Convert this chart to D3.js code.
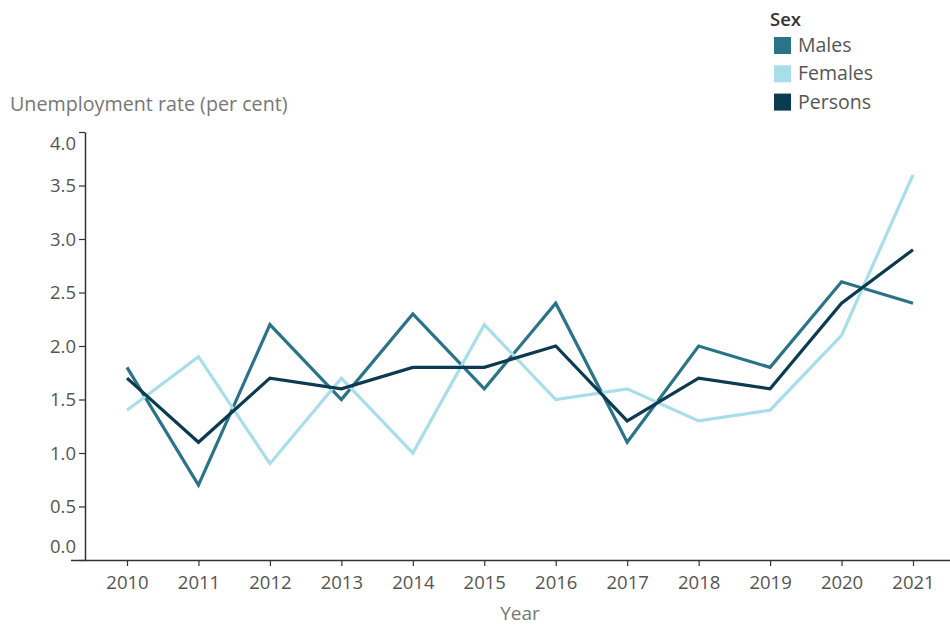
<!DOCTYPE html>
<html>
<head>
<meta charset="utf-8">
<script src="https://cdn.jsdelivr.net/npm/d3@7"></script>
<style>
  body { margin: 0; background: #fff; }
  text { font-family: "Open Sans", "Noto Sans", sans-serif; }
</style>
</head>
<body>
<svg id="chart" width="950" height="625"></svg>
<script>
// Unemployment rate by sex, 2010–2021
const years = [2010, 2011, 2012, 2013, 2014, 2015, 2016, 2017, 2018, 2019, 2020, 2021];
const males   = [1.8, 0.7, 2.2, 1.5, 2.3, 1.6, 2.4, 1.1, 2.0, 1.8, 2.6, 2.4];
const females = [1.4, 1.9, 0.9, 1.7, 1.0, 2.2, 1.5, 1.6, 1.3, 1.4, 2.1, 3.6];
const persons = [1.7, 1.1, 1.7, 1.6, 1.8, 1.8, 2.0, 1.3, 1.7, 1.6, 2.4, 2.9];
const seriesNames = ["Males", "Females", "Persons"];
const yTicks = [0, 0.5, 1.0, 1.5, 2.0, 2.5, 3.0, 3.5, 4.0];

const colors = { Males: "#2a7388", Females: "#a8dee9", Persons: "#0c3a50" };
const series = [
  { name: "Males", values: males },
  { name: "Females", values: females },
  { name: "Persons", values: persons }
];

const svg = d3.select("#chart");
const plotLeft = 85, plotRight = 950, plotTop = 132, plotBottom = 560;

const x = d3.scalePoint().domain(years).range([127, 913]);
const y = d3.scaleLinear().domain([0, 4]).range([plotBottom, plotTop]);

// Y axis
const yAxis = svg.append("g").attr("transform", `translate(${plotLeft},0)`)
  .call(d3.axisLeft(y).tickValues(yTicks).tickFormat(d3.format(".1f")).tickSize(6).tickSizeOuter(0));
yAxis.select(".domain").attr("stroke", "#333").attr("stroke-width", 1.5);
yAxis.selectAll(".tick line").attr("stroke", "#333").attr("stroke-width", 1.2);
yAxis.selectAll(".tick text")
  .attr("x", -9)
  .attr("fill", "#555")
  .style("font-size", "18.5px")
  .attr("dy", d => d === 4 ? "0.95em" : (d === 0 ? "-0.4em" : "0.34em"));

// X axis
const xAxis = svg.append("g").attr("transform", `translate(0,${plotBottom})`)
  .call(d3.axisBottom(x).tickSize(6).tickSizeOuter(0));
xAxis.select(".domain").attr("d", `M${plotLeft - 14},0.5H${plotRight}`).attr("stroke", "#333").attr("stroke-width", 1.5);
xAxis.selectAll(".tick line").attr("stroke", "#333").attr("stroke-width", 1.2);
xAxis.selectAll(".tick text")
  .attr("y", 16)
  .attr("fill", "#555")
  .style("font-size", "18.5px");

// Axis titles
svg.append("text").attr("x", 10).attr("y", 111)
  .attr("fill", "#777").style("font-size", "19.7px")
  .text("Unemployment rate (per cent)");
svg.append("text").attr("x", 520).attr("y", 620)
  .attr("text-anchor", "middle")
  .attr("fill", "#777").style("font-size", "19px")
  .text("Year");

// Lines
const line = d3.line().x((d, i) => x(years[i])).y(d => y(d));
svg.append("g").selectAll("path").data(series).join("path")
  .attr("d", d => line(d.values))
  .attr("fill", "none")
  .attr("stroke", d => colors[d.name])
  .attr("stroke-width", 3.2)
  .attr("stroke-linejoin", "miter");

// Legend
const legend = svg.append("g");
legend.append("text").attr("x", 770).attr("y", 26)
  .attr("fill", "#333").style("font-size", "18.5px").style("font-weight", "600")
  .text("Sex");
const items = legend.selectAll("g.item").data(seriesNames).join("g")
  .attr("class", "item")
  .attr("transform", (d, i) => `translate(774,${37 + i * 28.3})`);
items.append("rect").attr("width", 17).attr("height", 17).attr("fill", d => colors[d]);
items.append("text").attr("x", 24).attr("y", 15)
  .attr("fill", "#555").style("font-size", "19.5px")
  .text(d => d);
</script>
</body>
</html>
